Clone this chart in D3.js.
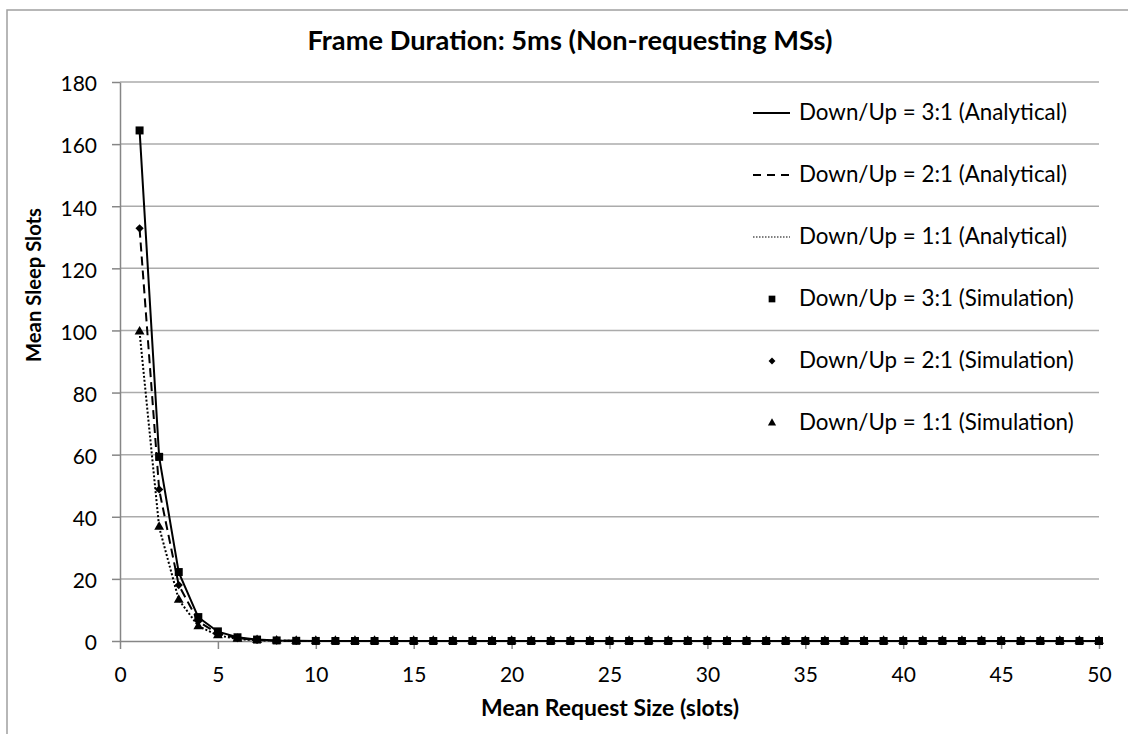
<!DOCTYPE html>
<html><head><meta charset="utf-8">
<script src="https://cdn.jsdelivr.net/npm/d3@7"></script>
<style>
body{margin:0;background:#fff}
svg{display:block}
text{font-family:Lato,'Open Sans',sans-serif;fill:#000}
</style>
</head><body>
<svg id="c" width="1128" height="734"></svg>
<script>
// ---------- DATA ----------
const requestSizes = [1,2,3,4,5,6,7,8,9,10,11,12,13,14,15,16,17,18,19,20,21,22,23,24,25,26,27,28,29,30,31,32,33,34,35,36,37,38,39,40,41,42,43,44,45,46,47,48,49,50];
const analytical31 = [164.5,59.2,22.1,7.6,3.0,1.2,0.45,0.17,0.06,0.02,0.01,0,0,0,0,0,0,0,0,0,0,0,0,0,0,0,0,0,0,0,0,0,0,0,0,0,0,0,0,0,0,0,0,0,0,0,0,0,0,0];
const analytical21 = [132.8,48.7,18.0,6.3,2.4,0.9,0.33,0.12,0.04,0.02,0.01,0,0,0,0,0,0,0,0,0,0,0,0,0,0,0,0,0,0,0,0,0,0,0,0,0,0,0,0,0,0,0,0,0,0,0,0,0,0,0];
const analytical11 = [99.5,36.6,13.3,4.8,1.8,0.65,0.24,0.09,0.03,0.01,0,0,0,0,0,0,0,0,0,0,0,0,0,0,0,0,0,0,0,0,0,0,0,0,0,0,0,0,0,0,0,0,0,0,0,0,0,0,0,0];
const simulation31 = [164.4,59.3,22.2,7.7,3.1,1.2,0.46,0.18,0.06,0.02,0.01,0,0,0,0,0,0,0,0,0,0,0,0,0,0,0,0,0,0,0,0,0,0,0,0,0,0,0,0,0,0,0,0,0,0,0,0,0,0,0];
const simulation21 = [132.9,48.8,18.0,6.4,2.4,0.9,0.34,0.12,0.04,0.02,0.01,0,0,0,0,0,0,0,0,0,0,0,0,0,0,0,0,0,0,0,0,0,0,0,0,0,0,0,0,0,0,0,0,0,0,0,0,0,0,0];
const simulation11 = [99.6,36.7,13.2,4.7,1.8,0.66,0.24,0.09,0.03,0.01,0,0,0,0,0,0,0,0,0,0,0,0,0,0,0,0,0,0,0,0,0,0,0,0,0,0,0,0,0,0,0,0,0,0,0,0,0,0,0,0];
const xTicks = [0,5,10,15,20,25,30,35,40,45,50];
const yTicks = [0,20,40,60,80,100,120,140,160,180];
const seriesNames = [
  "Down/Up = 3:1 (Analytical)",
  "Down/Up = 2:1 (Analytical)",
  "Down/Up = 1:1 (Analytical)",
  "Down/Up = 3:1 (Simulation)",
  "Down/Up = 2:1 (Simulation)",
  "Down/Up = 1:1 (Simulation)"
];
const chartTitle = "Frame Duration: 5ms (Non-requesting MSs)";
const xTitle = "Mean Request Size (slots)";
const yTitle = "Mean Sleep Slots";

// ---------- LAYOUT ----------
const svg = d3.select('#c');
const x = d3.scaleLinear().domain([0,50]).range([120,1099]);
const y = d3.scaleLinear().domain([0,180]).range([641,82]);

function fit(sel, target){
  const w = sel.node().getComputedTextLength();
  const fs = parseFloat(sel.attr('font-size'));
  sel.attr('font-size', fs*target/w);
  return fs*target/w;
}

// outer frame
svg.append('rect').attr('x',7).attr('y',10).attr('width',1140).attr('height',740)
  .attr('fill','none').attr('stroke','#a0a0a0').attr('stroke-width',1.5);

// gridlines
svg.append('g').selectAll('line').data(yTicks.filter(d=>d>0)).join('line')
  .attr('x1',x(0)).attr('x2',x(50)).attr('y1',d=>y(d)).attr('y2',d=>y(d))
  .attr('stroke','#ababab').attr('stroke-width',1.5);

// axes
const yAxis = svg.append('g').attr('transform',`translate(${x(0)},0)`)
  .call(d3.axisLeft(y).tickValues(yTicks).tickSize(8).tickSizeOuter(0).tickPadding(15));
const xAxis = svg.append('g').attr('transform',`translate(0,${y(0)})`)
  .call(d3.axisBottom(x).tickValues(xTicks).tickSize(8).tickSizeOuter(0).tickPadding(18));
[yAxis,xAxis].forEach(a=>{
  a.select('.domain').attr('stroke','#868686').attr('stroke-width',1.5);
  a.selectAll('.tick line').attr('stroke','#868686').attr('stroke-width',1.5);
  a.selectAll('.tick text').attr('font-size',21).attr('font-family','Lato,sans-serif').attr('fill','#000');
});
yAxis.selectAll('.tick text').attr('dy','0.42em');
xAxis.selectAll('.tick text').attr('dy','0.71em');

// series lines
const lineGen = d3.line().x((d,i)=>x(requestSizes[i])).y(d=>y(d));
const lineStyles = [
  {data:analytical31, dash:null, w:2},
  {data:analytical21, dash:'9,5', w:2},
  {data:analytical11, dash:'2,2', w:2}
];
lineStyles.forEach(s=>{
  svg.append('path').datum(s.data).attr('d',lineGen)
    .attr('fill','none').attr('stroke','#000').attr('stroke-width',s.w)
    .attr('stroke-dasharray',s.dash);
});

// markers
const markerStyles = [
  {data:simulation31, type:d3.symbolSquare, size:64, rot:0},
  {data:simulation21, type:d3.symbolSquare, size:34, rot:45},
  {data:simulation11, type:d3.symbolTriangle, size:42, rot:0}
];
markerStyles.forEach(m=>{
  svg.append('g').selectAll('path').data(m.data).join('path')
    .attr('transform',(d,i)=>`translate(${x(requestSizes[i])},${y(d)}) rotate(${m.rot})`)
    .attr('d',d3.symbol().type(m.type).size(m.size)).attr('fill','#000');
});

// legend
const lg = svg.append('g');
let legendSize = null;
seriesNames.forEach((name,i)=>{
  const cy = 113 + 62*i;
  if(i<3){
    lg.append('line').attr('x1',753).attr('x2',790).attr('y1',cy).attr('y2',cy)
      .attr('stroke','#000').attr('stroke-width', i===2?1.2:2)
      .attr('stroke-dasharray', i===1?'8,6':(i===2?'1.5,1.5':null));
  } else {
    const m = markerStyles[i-3];
    lg.append('path').attr('transform',`translate(772,${cy}) rotate(${m.rot})`)
      .attr('d',d3.symbol().type(m.type).size(m.size*0.7)).attr('fill','#000');
  }
  const t = lg.append('text').attr('x',799).attr('y',cy+7).attr('font-size',20).text(name);
  if(i===0) legendSize = fit(t,268); else t.attr('font-size',legendSize);
});

// titles
const tt = svg.append('text').attr('x',570).attr('y',50).attr('text-anchor','middle')
  .attr('font-weight','bold').attr('font-size',20).text(chartTitle);
fit(tt,525);
const xt = svg.append('text').attr('x',610).attr('y',716).attr('text-anchor','middle')
  .attr('font-weight','bold').attr('font-size',18).text(xTitle);
fit(xt,258);
const yt = svg.append('text').attr('transform','translate(41,285) rotate(-90)').attr('text-anchor','middle')
  .attr('font-weight','bold').attr('font-size',18).text(yTitle);
fit(yt,154);
</script>
</body></html>
